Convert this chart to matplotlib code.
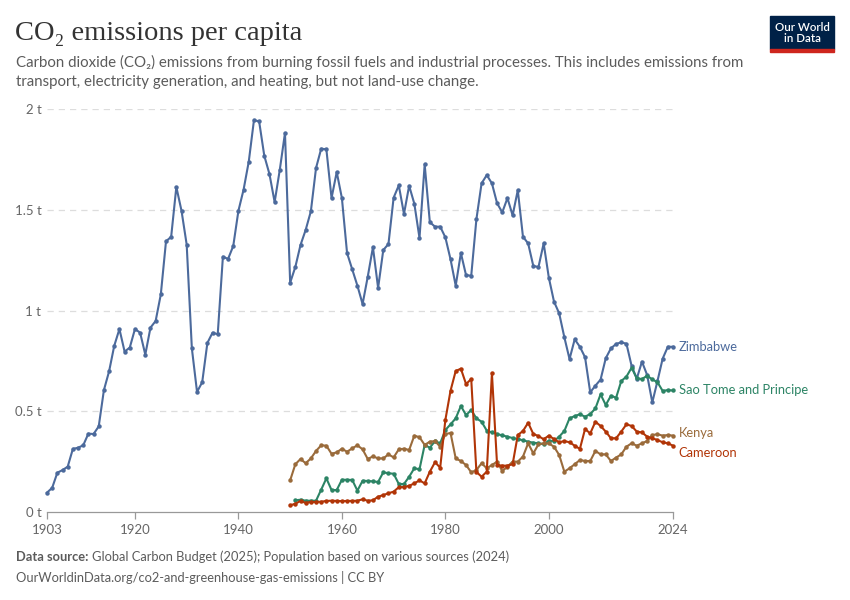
'''CO2 emissions per capita: Zimbabwe, Sao Tome and Principe, Kenya, Cameroon'''
import matplotlib
matplotlib.use("Agg")
import matplotlib.pyplot as plt
from matplotlib.patches import Rectangle

# Data (tonnes per person)
zimbabwe_years = list(range(1903, 2025))
zimbabwe = [
    0.096, 0.12, 0.195, 0.208, 0.225, 0.313, 0.319, 0.331, 0.389, 0.387,   # 1903-1912
    0.425, 0.605, 0.698, 0.825, 0.908, 0.796, 0.816, 0.908, 0.89, 0.781,   # 1913-1922
    0.915, 0.948, 1.08, 1.343, 1.366, 1.613, 1.495, 1.327, 0.812, 0.596,   # 1923-1932
    0.644, 0.839, 0.89, 0.882, 1.267, 1.256, 1.32, 1.495, 1.6, 1.739,      # 1933-1942
    1.944, 1.939, 1.768, 1.677, 1.538, 1.699, 1.881, 1.138, 1.216, 1.325,  # 1943-1952
    1.4, 1.492, 1.707, 1.803, 1.8, 1.558, 1.687, 1.558, 1.285, 1.204,      # 1953-1962
    1.123, 1.032, 1.168, 1.314, 1.112, 1.3, 1.33, 1.56, 1.621, 1.479,      # 1963-1972
    1.619, 1.53, 1.36, 1.725, 1.438, 1.416, 1.416, 1.363, 1.254, 1.123,    # 1973-1982
    1.285, 1.175, 1.173, 1.453, 1.631, 1.672, 1.631, 1.532, 1.487, 1.558,  # 1983-1992
    1.472, 1.597, 1.366, 1.333, 1.221, 1.216, 1.333, 1.163, 1.044, 0.986,  # 1993-2002
    0.867, 0.759, 0.857, 0.82, 0.768, 0.594, 0.627, 0.657, 0.763, 0.812,   # 2003-2012
    0.834, 0.842, 0.835, 0.725, 0.662, 0.746, 0.68, 0.544, 0.65, 0.761,    # 2013-2022
    0.82, 0.82,                                                            # 2023-2024
]

sao_tome_years = list(range(1951, 2025))
sao_tome = [
    0.058, 0.061, 0.056, 0.056, 0.056, 0.111, 0.167, 0.109, 0.109, 0.16,   # 1951-1960
    0.16, 0.159, 0.106, 0.155, 0.154, 0.152, 0.149, 0.197, 0.192, 0.19,    # 1961-1970
    0.139, 0.139, 0.175, 0.217, 0.212, 0.333, 0.319, 0.352, 0.341, 0.407,  # 1971-1980
    0.435, 0.465, 0.526, 0.481, 0.506, 0.465, 0.448, 0.404, 0.395, 0.387,  # 1981-1990
    0.38, 0.374, 0.367, 0.362, 0.356, 0.349, 0.344, 0.341, 0.336, 0.354,   # 1991-2000
    0.352, 0.374, 0.402, 0.465, 0.476, 0.485, 0.473, 0.486, 0.514, 0.584,  # 2001-2010
    0.531, 0.577, 0.567, 0.65, 0.672, 0.716, 0.663, 0.66, 0.676, 0.658,    # 2011-2020
    0.644, 0.601, 0.605, 0.603,                                            # 2021-2024
]

kenya_years = list(range(1950, 2025))
kenya = [
    0.157, 0.237, 0.263, 0.242, 0.266, 0.303, 0.331, 0.329, 0.289, 0.296,  # 1950-1959
    0.314, 0.299, 0.316, 0.331, 0.311, 0.263, 0.276, 0.266, 0.266, 0.286,  # 1960-1969
    0.271, 0.311, 0.314, 0.308, 0.379, 0.371, 0.333, 0.349, 0.352, 0.324,  # 1970-1979
    0.387, 0.392, 0.266, 0.253, 0.233, 0.197, 0.208, 0.242, 0.217, 0.233,  # 1980-1989
    0.25, 0.203, 0.225, 0.25, 0.25, 0.275, 0.341, 0.291, 0.336, 0.341,     # 1990-1999
    0.34, 0.324, 0.283, 0.2, 0.217, 0.237, 0.258, 0.253, 0.253, 0.303,     # 2000-2009
    0.286, 0.286, 0.253, 0.27, 0.286, 0.324, 0.341, 0.329, 0.341, 0.352,   # 2010-2019
    0.382, 0.386, 0.379, 0.382, 0.379,                                     # 2020-2024
]

cameroon_years = list(range(1950, 2025))
cameroon = [
    0.033, 0.041, 0.055, 0.045, 0.05, 0.05, 0.051, 0.055, 0.056, 0.055,    # 1950-1959
    0.054, 0.055, 0.055, 0.056, 0.063, 0.056, 0.058, 0.076, 0.084, 0.093,  # 1960-1969
    0.101, 0.123, 0.124, 0.13, 0.142, 0.157, 0.142, 0.2, 0.247, 0.22,      # 1970-1979
    0.457, 0.602, 0.7, 0.711, 0.635, 0.66, 0.199, 0.175, 0.2, 0.688,       # 1980-1989
    0.233, 0.23, 0.23, 0.237, 0.382, 0.402, 0.443, 0.387, 0.377, 0.361,    # 1990-1999
    0.379, 0.362, 0.346, 0.352, 0.346, 0.329, 0.313, 0.412, 0.39, 0.448,   # 2000-2009
    0.427, 0.399, 0.366, 0.366, 0.399, 0.435, 0.427, 0.399, 0.395, 0.374,  # 2010-2019
    0.366, 0.357, 0.346, 0.341, 0.329,                                     # 2020-2024
]

x_ticks = [1903, 1920, 1940, 1960, 1980, 2000, 2024]
y_ticks = [0, 0.5, 1, 1.5, 2]
y_tick_labels = ["0 t", "0.5 t", "1 t", "1.5 t", "2 t"]

series = [
    ("Zimbabwe", zimbabwe_years, zimbabwe, "#4C6A9C", 0),
    ("Sao Tome and Principe", sao_tome_years, sao_tome, "#2C8465", 0),
    ("Kenya", kenya_years, kenya, "#9A6B3B", 2),
    ("Cameroon", cameroon_years, cameroon, "#B13507", -5),
]

SANS = ["Lato", "DejaVu Sans"]
SERIF = ["Liberation Serif", "DejaVu Serif"]
GREY = "#5b5b5b"

fig = plt.figure(figsize=(8.5, 6), dpi=100)
W, H = 850, 600
ax = fig.add_axes([47 / W, 1 - 512 / H, (673 - 47) / W, (512 - 109) / H])

for name, yrs, vals, color, dy in series:
    ax.plot(yrs, vals, color=color, linewidth=1.5, marker="o", markersize=2.2,
            clip_on=False, zorder=3)
    ax.annotate(name, xy=(yrs[-1], vals[-1]), xytext=(4, dy),
                textcoords="offset points", va="center", ha="left",
                color=color, fontsize=9.3, family=SANS, annotation_clip=False)

ax.set_xlim(1903, 2024)
ax.set_ylim(0, 2)
ax.set_xticks(x_ticks)
ax.set_xticklabels([str(t) for t in x_ticks])
ax.set_yticks(y_ticks)
ax.set_yticklabels(y_tick_labels)

for v in y_ticks[1:]:
    ax.axhline(v, color="#dddddd", linewidth=0.9, linestyle=(0, (5, 4)), zorder=1)

for side in ["top", "right", "left"]:
    ax.spines[side].set_visible(False)
ax.spines["bottom"].set_color("#999999")
ax.spines["bottom"].set_linewidth(0.9)
ax.tick_params(axis="x", colors="#999999", length=5, width=0.9, labelcolor="#666666",
               labelsize=9.5, pad=4)
ax.tick_params(axis="y", length=0, labelcolor="#666666", labelsize=9.5, pad=4)
for lab in ax.get_xticklabels() + ax.get_yticklabels():
    lab.set_family(SANS)

# Header
fig.text(15 / W, 1 - 40 / H, "CO\u2082 emissions per capita", fontsize=20.5,
         family=SERIF, color="#333333", va="baseline")
fig.text(16 / W, 1 - 67 / H,
         "Carbon dioxide (CO\u2082) emissions from burning fossil fuels and industrial processes. "
         "This includes emissions from", fontsize=10.8, family=SANS, color=GREY, va="baseline")
fig.text(16 / W, 1 - 86 / H,
         "transport, electricity generation, and heating, but not land-use change.",
         fontsize=10.8, family=SANS, color=GREY, va="baseline")

# Logo
fig.patches.append(Rectangle((770 / W, 1 - 49 / H), 64 / W, 33 / H,
                             transform=fig.transFigure, color="#002147"))
fig.patches.append(Rectangle((770 / W, 1 - 52 / H), 64 / W, 3 / H,
                             transform=fig.transFigure, color="#CE261E"))
fig.text(802 / W, 1 - 33 / H, "Our World\nin Data", fontsize=8.3, family=SANS,
         color="white", ha="center", va="center", linespacing=1.0, weight="semibold")

# Footer
src_label = fig.text(16 / W, 1 - 561 / H, "Data source:", fontsize=9.3, family=SANS,
                     color=GREY, weight="bold", va="baseline")
renderer = fig.canvas.get_renderer()
bb = src_label.get_window_extent(renderer=renderer)
fig.text((bb.x1 + 4) / W, 1 - 561 / H,
         "Global Carbon Budget (2025); Population based on various sources (2024)",
         fontsize=9.3, family=SANS, color=GREY, va="baseline")
fig.text(16 / W, 1 - 582 / H,
         "OurWorldinData.org/co2-and-greenhouse-gas-emissions | CC BY",
         fontsize=9.3, family=SANS, color=GREY, va="baseline")

plt.savefig("out.png", dpi=100)
plt.close(fig)
